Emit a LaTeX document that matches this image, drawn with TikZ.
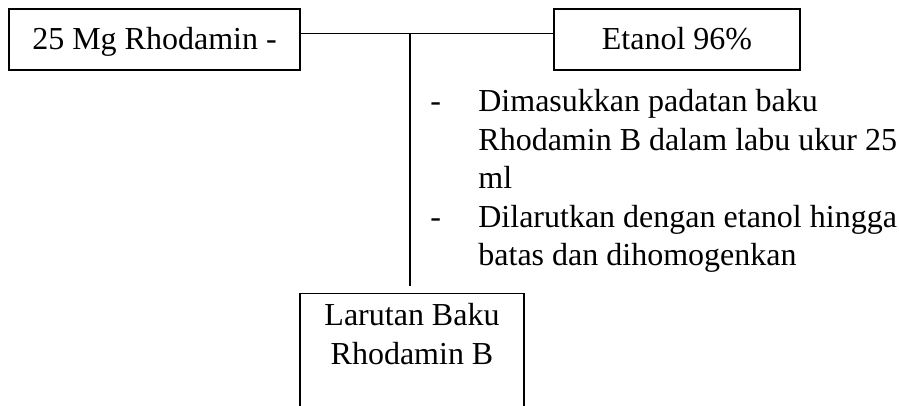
\documentclass[tikz,border=0pt]{standalone}
\usepackage{fontspec}
\setmainfont{Liberation Serif}
\usetikzlibrary{positioning}

\begin{document}
\begin{tikzpicture}[x=0.5pt, y=-0.5pt,
    box/.style={draw, line width=0.6pt, inner sep=0pt, text height=11pt, text depth=1pt,
        minimum height=30.5pt, font=\fontsize{16}{19.25}\selectfont},
    txt/.style={inner sep=0pt, font=\fontsize{16}{19.25}\selectfont}]
    \useasboundingbox (0,0) rectangle (899,406);
    \clip (0,0) rectangle (899,406);

    % top boxes
    \node[box, minimum width=145.5pt] (rhod) at (154.5,39.5) {25 Mg Rhodamin -};
    \node[box, minimum width=123pt] (etanol) at (677,39.5) {Etanol 96\%};

    % result box (cut off at the bottom)
    \node[txt, draw, line width=0.6pt, anchor=north] (hasil) at (412,293)
        {\parbox[t][80pt][t]{112pt}{\centering\rule{0pt}{16pt}Larutan Baku\\Rhodamin B}};

    % lines
    \coordinate (j) at (410,33.5);
    \draw[line width=0.6pt] (rhod.east |- j) -- (etanol.west |- j);
    \draw[line width=0.6pt] (j) -- ([yshift=3.5pt]hasil.north -| j);

    % steps
    \node[txt, anchor=base west] (langkah) at (430,112) {\begin{tabular}[t]{@{}p{24pt}@{}l@{}}
        - & Dimasukkan padatan baku\\
          & Rhodamin B dalam labu ukur 25\\
          & ml\\
        - & Dilarutkan dengan etanol hingga\\
          & batas dan dihomogenkan
    \end{tabular}};
\end{tikzpicture}
\end{document}
